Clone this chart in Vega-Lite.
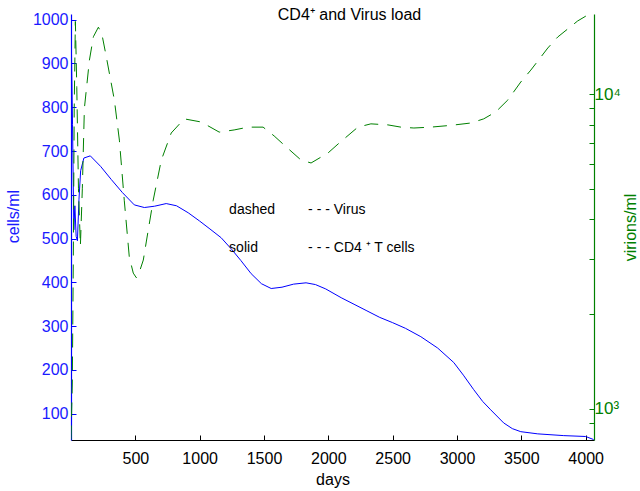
{
  "$schema": "https://vega.github.io/schema/vega-lite/v6.json",
  "width": 523,
  "height": 426,
  "autosize": {"type": "none"},
  "padding": {"left": 71, "top": 14, "right": 46, "bottom": 51},
  "background": "white",
  "config": {
    "view": {"stroke": null},
    "font": "Liberation Sans",
    "axis": {"grid": false, "labelFont": "Liberation Sans", "titleFont": "Liberation Sans", "labelFontSize": 16, "titleFontSize": 16, "titleFontWeight": "normal", "tickSize": -5, "domainWidth": 1.2, "format": "d"}
  },
  "title": {"text": "CD4⁺ and Virus load", "fontSize": 16, "fontWeight": "normal", "font": "Liberation Sans", "color": "black", "anchor": "middle", "baseline": "alphabetic", "offset": -9, "dx": 17, "dy": 15},
  "datasets": {
    "cd4": [
      {"day": 0, "cells": 1000}, {"day": 12, "cells": 760}, {"day": 22, "cells": 520}, {"day": 30, "cells": 575}, {"day": 40, "cells": 505}, {"day": 50, "cells": 495}, {"day": 62, "cells": 590}, {"day": 75, "cells": 655}, {"day": 100, "cells": 684}, {"day": 150, "cells": 689}, {"day": 230, "cells": 665}, {"day": 313, "cells": 635}, {"day": 400, "cells": 605}, {"day": 492, "cells": 577}, {"day": 570, "cells": 571}, {"day": 650, "cells": 574}, {"day": 740, "cells": 580}, {"day": 820, "cells": 575}, {"day": 911, "cells": 559}, {"day": 1000, "cells": 540}, {"day": 1080, "cells": 522}, {"day": 1167, "cells": 502}, {"day": 1250, "cells": 475}, {"day": 1320, "cells": 450}, {"day": 1400, "cells": 420}, {"day": 1480, "cells": 397}, {"day": 1556, "cells": 386}, {"day": 1640, "cells": 389}, {"day": 1730, "cells": 396}, {"day": 1827, "cells": 399}, {"day": 1900, "cells": 395}, {"day": 1980, "cells": 385}, {"day": 2100, "cells": 365}, {"day": 2200, "cells": 350}, {"day": 2300, "cells": 335}, {"day": 2400, "cells": 320}, {"day": 2500, "cells": 308}, {"day": 2600, "cells": 295}, {"day": 2719, "cells": 276}, {"day": 2850, "cells": 250}, {"day": 2975, "cells": 217}, {"day": 3050, "cells": 188}, {"day": 3130, "cells": 155}, {"day": 3200, "cells": 128}, {"day": 3262, "cells": 109}, {"day": 3363, "cells": 79}, {"day": 3430, "cells": 66}, {"day": 3496, "cells": 59}, {"day": 3628, "cells": 54}, {"day": 3830, "cells": 50}, {"day": 4000, "cells": 48}, {"day": 4062, "cells": 41}
    ],
    "virus": [
      {"day": 0, "virions": 800}, {"day": 10, "virions": 1200}, {"day": 18, "virions": 3000}, {"day": 25, "virions": 9000}, {"day": 34, "virions": 17000}, {"day": 45, "virions": 10500}, {"day": 58, "virions": 5000}, {"day": 73, "virions": 3300}, {"day": 88, "virions": 5000}, {"day": 104, "virions": 9000}, {"day": 143, "virions": 12800}, {"day": 174, "virions": 15200}, {"day": 213, "virions": 16300}, {"day": 240, "virions": 15500}, {"day": 275, "virions": 13090}, {"day": 337, "virions": 9570}, {"day": 376, "virions": 7140}, {"day": 414, "virions": 4600}, {"day": 453, "virions": 3040}, {"day": 484, "virions": 2700}, {"day": 508, "virions": 2610}, {"day": 535, "virions": 2750}, {"day": 562, "virions": 2970}, {"day": 585, "virions": 3390}, {"day": 639, "virions": 4600}, {"day": 702, "virions": 6170}, {"day": 779, "virions": 7520}, {"day": 880, "virions": 8340}, {"day": 1012, "virions": 8150}, {"day": 1152, "virions": 7570}, {"day": 1268, "virions": 7690}, {"day": 1377, "virions": 7850}, {"day": 1493, "virions": 7850}, {"day": 1579, "virions": 7360}, {"day": 1656, "virions": 6890}, {"day": 1788, "virions": 6170}, {"day": 1866, "virions": 6040}, {"day": 1998, "virions": 6500}, {"day": 2083, "virions": 6980}, {"day": 2230, "virions": 7850}, {"day": 2331, "virions": 8040}, {"day": 2463, "virions": 7980}, {"day": 2564, "virions": 7850}, {"day": 2665, "virions": 7800}, {"day": 2797, "virions": 7850}, {"day": 2950, "virions": 7950}, {"day": 3108, "virions": 8090}, {"day": 3208, "virions": 8340}, {"day": 3301, "virions": 8770}, {"day": 3395, "virions": 9570}, {"day": 3496, "virions": 10920}, {"day": 3574, "virions": 11910}, {"day": 3706, "virions": 14000}, {"day": 3783, "virions": 15170}, {"day": 3938, "virions": 17060}, {"day": 4016, "virions": 17820}, {"day": 4062, "virions": 17900}
    ],
    "notes": [
      {"day": 1229, "cells": 566, "label": "dashed"},
      {"day": 1843, "cells": 566, "label": "- - - Virus"},
      {"day": 1229, "cells": 479, "label": "solid"},
      {"day": 1843, "cells": 479, "label": "- - -  CD4 ⁺ T cells"}
    ]
  },
  "layer": [
    {
      "data": {"name": "cd4"},
      "mark": {"type": "line", "color": "#0000ff", "strokeWidth": 1, "clip": true},
      "encoding": {
        "x": {"field": "day", "type": "quantitative", "scale": {"domain": [0, 4065], "nice": false, "zero": false},
          "axis": {"values": [500, 1000, 1500, 2000, 2500, 3000, 3500, 4000], "title": "days", "labelColor": "black", "titleColor": "black", "domainColor": "black", "tickColor": "black", "labelPadding": 15, "titlePadding": 5}},
        "y": {"field": "cells", "type": "quantitative", "scale": {"domain": [40, 1013], "nice": false, "zero": false},
          "axis": {"orient": "left", "values": [100, 200, 300, 400, 500, 600, 700, 800, 900, 1000], "title": "cells/ml", "labelColor": "#1a1aff", "titleColor": "#1a1aff", "domainColor": "#0000ff", "tickColor": "#0000ff", "labelPadding": 8, "titleY": 202, "titleX": -50}}
      }
    },
    {
      "data": {"name": "notes"},
      "mark": {"type": "text", "align": "left", "baseline": "middle", "fontSize": 14, "color": "black", "font": "Liberation Sans"},
      "encoding": {
        "x": {"field": "day", "type": "quantitative", "scale": {"domain": [0, 4065], "nice": false, "zero": false}},
        "y": {"field": "cells", "type": "quantitative", "scale": {"domain": [40, 1013], "nice": false, "zero": false}, "axis": null},
        "text": {"field": "label"}
      }
    },
    {
      "data": {"name": "virus"},
      "mark": {"type": "line", "color": "#008000", "strokeWidth": 1, "strokeDash": [14, 9], "clip": true},
      "encoding": {
        "x": {"field": "day", "type": "quantitative", "scale": {"domain": [0, 4065], "nice": false, "zero": false}},
        "y": {"field": "virions", "type": "quantitative", "scale": {"type": "log", "domain": [797, 17950], "nice": false, "zero": false},
          "axis": {"orient": "right", "values": [900, 1000, 2000, 3000, 4000, 5000, 6000, 7000, 8000, 9000, 10000], "labelExpr": "datum.value == 1000 ? '10³' : datum.value == 10000 ? '10⁴' : ''", "title": "virions/ml", "titleAngle": 270, "titlePadding": 18, "labelColor": "#008000", "titleColor": "#008000", "domainColor": "#008000", "tickColor": "#008000", "labelPadding": 5, "labelFontSize": 17}}
      }
    }
  ],
  "resolve": {"scale": {"y": "independent"}}
}
